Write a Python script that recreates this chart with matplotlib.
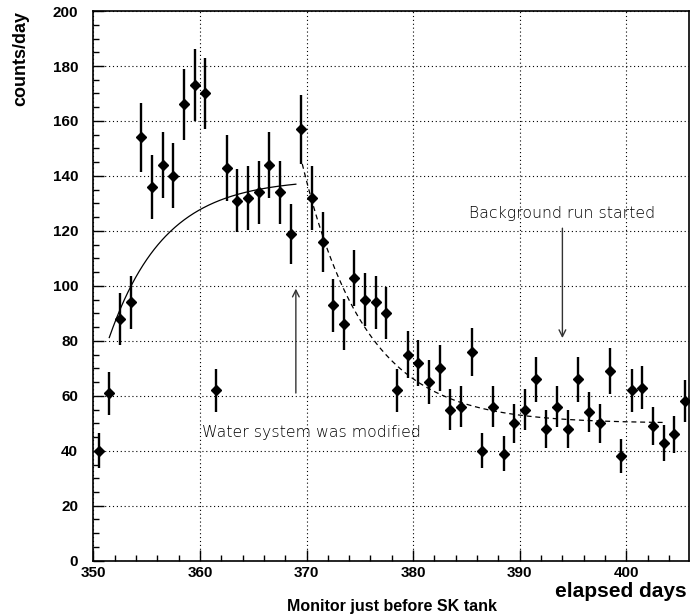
import numpy as np
import matplotlib
matplotlib.use("Agg")
import matplotlib.pyplot as plt
from matplotlib.ticker import MultipleLocator

# ---- data ----
days = [350.5, 351.5, 352.5, 353.5, 354.5, 355.5, 356.5, 357.5, 358.5, 359.5,
        360.5, 361.5, 362.5, 363.5, 364.5, 365.5, 366.5, 367.5, 368.5, 369.5,
        370.5, 371.5, 372.5, 373.5, 374.5, 375.5, 376.5, 377.5, 378.5, 379.5,
        380.5, 381.5, 382.5, 383.5, 384.5, 385.5, 386.5, 387.5, 388.5, 389.5,
        390.5, 391.5, 392.5, 393.5, 394.5, 395.5, 396.5, 397.5, 398.5, 399.5,
        400.5, 401.5, 402.5, 403.5, 404.5, 405.5]
counts = [40, 61, 88, 94, 154, 136, 144, 140, 166, 173,
          170, 62, 143, 131, 132, 134, 144, 134, 119, 157,
          132, 116, 93, 86, 103, 95, 94, 90, 62, 75,
          72, 65, 70, 55, 56, 76, 40, 56, 39, 50,
          55, 66, 48, 56, 48, 66, 54, 50, 69, 38,
          62, 63, 49, 43, 46, 58]
# Poisson errors (1-day bins)
errors = np.sqrt(np.array(counts, dtype=float))

# fit curve parameters (rise before, decay after water system change)
rise_start, rise_end = 351.5, 369.0
rise_A, rise_B, rise_tau = 139.0, 57.8, 5.2
decay_start, decay_end = 369.6, 403.6
decay_C, decay_D, decay_tau = 50.0, 96.0, 5.9

x_ticks = [350, 360, 370, 380, 390, 400]
y_ticks = [0, 20, 40, 60, 80, 100, 120, 140, 160, 180, 200]

fig = plt.figure(figsize=(6.91, 6.14), dpi=100)
ax = fig.add_axes([0.135, 0.0868, 0.8625, 0.8952])

ax.errorbar(days, counts, yerr=errors, xerr=0.3, fmt='D', color='black',
            markersize=5.5, elinewidth=1.7, capsize=0, zorder=3)

t1 = np.linspace(rise_start, rise_end, 200)
ax.plot(t1, rise_A - rise_B * np.exp(-(t1 - rise_start) / rise_tau),
        color='black', lw=0.9, zorder=2)
t2 = np.linspace(decay_start, decay_end, 300)
ax.plot(t2, decay_C + decay_D * np.exp(-(t2 - 369.5) / decay_tau),
        color='black', lw=0.9, ls=(0, (4, 3)), zorder=2)

ax.set_xlim(350, 405.9)
ax.set_ylim(0, 200)
ax.set_xticks(x_ticks)
ax.set_yticks(y_ticks)
ax.xaxis.set_minor_locator(MultipleLocator(2))
ax.yaxis.set_minor_locator(MultipleLocator(5))
ax.grid(True, which='major', ls=(0, (1, 2.5)), color='black', lw=0.8)
ax.tick_params(which='both', direction='in', top=False, right=False)
ax.tick_params(which='major', length=8, width=1)
ax.tick_params(which='minor', length=4.5, width=1)
ax.tick_params(axis='y', pad=11)
ax.tick_params(axis='x', pad=4)
for lab in ax.get_xticklabels() + ax.get_yticklabels():
    lab.set_fontfamily('Liberation Sans')
    lab.set_fontweight('bold')
    lab.set_fontsize(11)
for s in ax.spines.values():
    s.set_linewidth(1.2)

# annotations
ax.annotate('', xy=(369, 100), xytext=(369, 60),
            arrowprops=dict(arrowstyle='->', color='#333333', lw=1.0,
                            mutation_scale=12))
ax.text(360.2, 46.5, 'Water system was modified', fontsize=11.3,
        family='DejaVu Sans', fontweight='light', va='center', ha='left',
        color='black')
ax.annotate('', xy=(394, 80), xytext=(394, 122),
            arrowprops=dict(arrowstyle='->', color='#333333', lw=1.0,
                            mutation_scale=12))
ax.text(385.2, 126.3, 'Background run started', fontsize=11.3,
        family='DejaVu Sans', fontweight='light', va='center', ha='left',
        color='black')

fig.text(0.03, 0.982, 'counts/day', rotation=90, ha='center', va='top',
         fontsize=13, fontweight='bold', family='Liberation Sans')
fig.text(0.994, 0.037, 'elapsed days', ha='right', va='center',
         fontsize=15, fontweight='bold', family='Liberation Sans')
fig.text(0.567, 0.012, 'Monitor just before SK tank', ha='center', va='center',
         fontsize=11.5, fontweight='bold', family='Liberation Sans')

fig.savefig('out.png', dpi=100)
